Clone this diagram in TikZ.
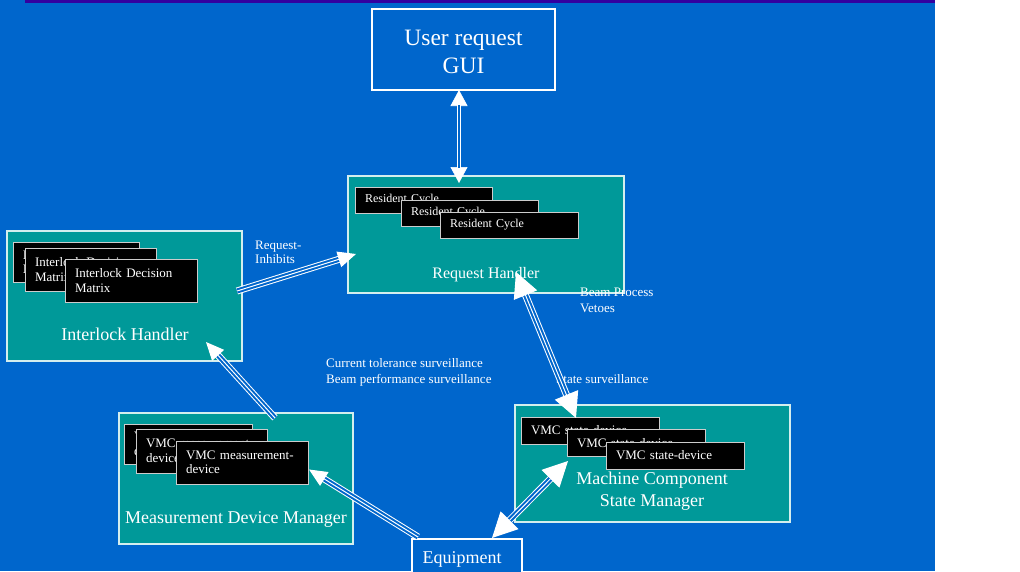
\documentclass[tikz,border=0pt]{standalone}
\usepackage{fontspec}
\setmainfont{Liberation Serif}
\usetikzlibrary{arrows.meta}

\definecolor{bgblue}{HTML}{0066CC}
\definecolor{topbar}{HTML}{3300A0}
\definecolor{tealbox}{HTML}{009999}
\definecolor{edge}{HTML}{D4EEEE}
\definecolor{cardedge}{HTML}{CCCCCC}

\tikzset{
  panel/.style={draw=edge, line width=1.2pt, fill=tealbox, inner sep=0pt},
  outline/.style={draw=white, line width=1.2pt, fill=bgblue, inner sep=0pt},
  card/.style={draw=cardedge, line width=1pt, fill=black, text=white,
    inner xsep=10pt, inner ysep=0pt, align=left,
    font=\fontsize{13}{14.5}\selectfont},
  smallcard/.style={card, font=\fontsize{12}{14}\selectfont},
  % multi-line titles and notes are placed by the baseline of their last line
  title/.style={text=white, inner sep=0pt, align=center, anchor=base},
  note/.style={text=white, inner sep=0pt, align=left, anchor=base west,
    font=\fontsize{13}{16}\selectfont},
  % three-line shaft: white / blue / white / blue / white
  trishaft/.style={draw=white, line width=1pt, double=bgblue, double distance=5pt},
  % two-line shaft
  dblshaft/.style={draw=white, line width=1pt, double=bgblue, double distance=2.5pt},
  smallhead/.style={draw=white, line width=1pt, -{Triangle[length=18pt,width=16pt]}},
  bighead/.style={draw=white, line width=1pt, {Triangle[length=25pt,width=25pt]}-{Triangle[length=25pt,width=25pt]}},
  guihead/.style={draw=white, line width=0.6pt, {Triangle[length=16pt,width=17pt]}-{Triangle[length=16pt,width=17pt]}},
}

\begin{document}
\begin{tikzpicture}[x=1pt,y=-1pt]
\useasboundingbox (0,0) rectangle (1020,571);
\fill[white] (0,0) rectangle (1020,571);
\fill[bgblue] (0,0) rectangle (935,571);
\fill[topbar] (25,0) rectangle (935,2.5);

% ---- main blocks ----
\node[outline, minimum width=183pt, minimum height=81pt] (gui) at (463.5,49.5) {};
\node[title, font=\fontsize{23.5}{28}\selectfont] (guitext) at (463.5,73) {User request\\GUI};

\node[panel, minimum width=276pt, minimum height=117pt] (rh) at (486,234.5) {};
\node[panel, minimum width=235pt, minimum height=130pt] (ih) at (124.5,296) {};
\node[panel, minimum width=234pt, minimum height=131pt] (mdm) at (236,478.5) {};
\node[panel, minimum width=275pt, minimum height=117pt] (mcsm) at (652.5,463.5) {};
\node[outline, minimum width=110pt, minimum height=42pt] (eq) at (467,560) {};

% ---- stacked cards ----
\node[smallcard, minimum width=137pt, minimum height=26pt, text width=117pt] (rc1) at (423.5,200) {Resident Cycle};
\node[smallcard, minimum width=137pt, minimum height=26pt, text width=117pt] (rc2) at (469.5,213) {Resident Cycle};
\node[smallcard, minimum width=138pt, minimum height=26pt, text width=118pt] (rc3) at (509,225) {Resident Cycle};

\node[card, minimum width=126pt, minimum height=40pt, text width=106pt] (idm1) at (76,262) {Interlock Decision\\Matrix};
\node[card, minimum width=131pt, minimum height=43pt, text width=111pt] (idm2) at (90.5,269.5) {Interlock Decision\\Matrix};
\node[card, minimum width=132pt, minimum height=43pt, text width=112pt] (idm3) at (131,280.5) {Interlock Decision\\Matrix};

\node[card, minimum width=128pt, minimum height=40pt, text width=108pt] (vm1) at (188,444) {VMC measurement-\\device};
\node[card, minimum width=131pt, minimum height=44pt, text width=111pt] (vm2) at (201.5,451) {VMC measurement-\\device};
\node[card, minimum width=132pt, minimum height=43pt, text width=112pt] (vm3) at (242,462.5) {VMC measurement-\\device};

\node[card, minimum width=138pt, minimum height=27pt, text width=118pt] (vs1) at (590,430.5) {VMC state-device};
\node[card, minimum width=138pt, minimum height=27pt, text width=118pt] (vs2) at (636,443) {VMC state-device};
\node[card, minimum width=138pt, minimum height=27pt, text width=118pt] (vs3) at (675,455.5) {VMC state-device};

% ---- block titles ----
\node[title, font=\fontsize{16}{19}\selectfont] (rhtext) at (486,278) {Request Handler};
\node[title, font=\fontsize{18}{21}\selectfont] (ihtext) at (125,340.5) {Interlock Handler};
\node[title, font=\fontsize{18}{21}\selectfont] (mdmtext) at (236,523) {Measurement Device Manager};
\node[title, font=\fontsize{18}{21.7}\selectfont] (mcsmtext) at (652,506.5) {Machine Component\\State Manager};
\node[title, font=\fontsize{18}{21}\selectfont] (eqtext) at (462,563) {Equipment};

% ---- connector labels ----
\node[note, font=\fontsize{13}{14}\selectfont] (lreq) at (255,263) {Request-\\Inhibits};
\node[note] (lbeam) at (580,312) {Beam Process\\Vetoes};
\node[note] (lcur) at (326,383) {Current tolerance surveillance\\Beam performance surveillance};
\node[note] (lstate) at (556,383) {State surveillance};

% ---- connector end points ----
\coordinate (gui-s) at (459,90);
\coordinate (rh-n) at (459,183);
\coordinate (ih-out) at (237,291);
\coordinate (rh-in) at (356,254);
\coordinate (mdm-out) at (275,418);
\coordinate (ih-in) at (206,342);
\coordinate (eq-out) at (418,537);
\coordinate (mdm-in) at (309,469.5);
\coordinate (rh-s) at (516,272);
\coordinate (mcsm-n) at (576,418);
\coordinate (eq-ne) at (492,538);
\coordinate (mcsm-sw) at (568,461);

% ---- connectors ----
\draw[guihead] (gui-s) -- (rh-n);
\draw[dblshaft, shorten <=15pt, shorten >=15pt] (gui-s) -- (rh-n);

\draw[trishaft, shorten >=17pt] (ih-out) -- (rh-in);
\draw[smallhead] (ih-out) -- (rh-in);

\draw[trishaft, shorten >=17pt] (mdm-out) -- (ih-in);
\draw[smallhead] (mdm-out) -- (ih-in);

\draw[trishaft, shorten >=17pt] (eq-out) -- (mdm-in);
\draw[smallhead] (eq-out) -- (mdm-in);

\draw[trishaft, shorten <=24pt, shorten >=24pt] (rh-s) -- (mcsm-n);
\draw[bighead] (rh-s) -- (mcsm-n);

\draw[trishaft, shorten <=24pt, shorten >=24pt] (eq-ne) -- (mcsm-sw);
\draw[bighead] (eq-ne) -- (mcsm-sw);
\end{tikzpicture}
\end{document}
